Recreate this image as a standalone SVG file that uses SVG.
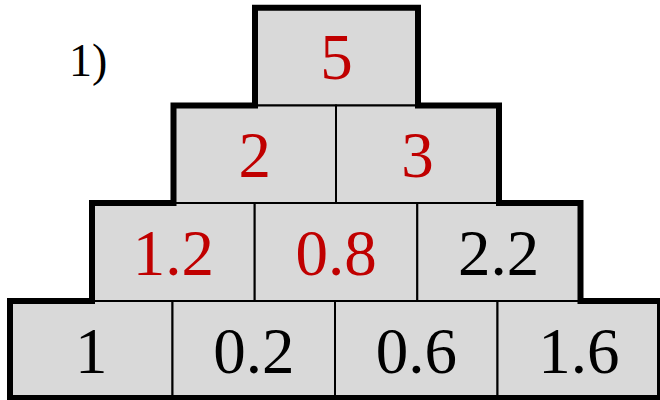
<svg xmlns="http://www.w3.org/2000/svg" width="660" height="400" viewBox="0 0 660 400">
  <style>
    .cell { fill: #d9d9d9; stroke: #000; stroke-width: 2; }
    .outline { fill: none; stroke: #000; stroke-width: 6; stroke-linejoin: miter; }
    .num { font-family: "Liberation Serif", "Times New Roman", serif; font-size: 65px; text-anchor: middle; }
    .red { fill: #c00000; }
    .blk { fill: #000; }
    .lbl { font-family: "Liberation Serif", "Times New Roman", serif; font-size: 46px; fill: #000; }
  </style>
  <text class="lbl" x="69" y="76">1)</text>
  <g id="row1">
    <g id="c5"><rect class="cell" x="255" y="7.7" width="163" height="97.8"/><text class="num red" x="336.5" y="79">5</text></g>
  </g>
  <g id="row2">
    <g id="c2"><rect class="cell" x="173.5" y="105.5" width="162.5" height="97.5"/><text class="num red" x="254.75" y="177">2</text></g>
    <g id="c3"><rect class="cell" x="336" y="105.5" width="163" height="97.5"/><text class="num red" x="417.5" y="177">3</text></g>
  </g>
  <g id="row3">
    <g id="c12"><rect class="cell" x="92" y="203" width="162.7" height="98"/><text class="num red" x="173.3" y="275">1.2</text></g>
    <g id="c08"><rect class="cell" x="254.7" y="203" width="162.6" height="98"/><text class="num red" x="336" y="275">0.8</text></g>
    <g id="c22"><rect class="cell" x="417.3" y="203" width="162.7" height="98"/><text class="num blk" x="498.7" y="275">2.2</text></g>
  </g>
  <g id="row4">
    <g id="c1"><rect class="cell" x="10" y="301" width="162.5" height="97"/><text class="num blk" x="91.25" y="373">1</text></g>
    <g id="c02"><rect class="cell" x="172.5" y="301" width="162.5" height="97"/><text class="num blk" x="253.75" y="373">0.2</text></g>
    <g id="c06"><rect class="cell" x="335" y="301" width="162.5" height="97"/><text class="num blk" x="416.25" y="373">0.6</text></g>
    <g id="c16"><rect class="cell" x="497.5" y="301" width="162.5" height="97"/><text class="num blk" x="578.75" y="373">1.6</text></g>
  </g>
  <g id="connectors">
    <path class="outline" d="M10,398 L10,301 L92,301 L92,203 L173.5,203 L173.5,105.5 L255,105.5 L255,7.7 L418,7.7 L418,105.5 L499,105.5 L499,203 L580.5,203 L580.5,301 L660,301 L660,398 Z"/>
  </g>
</svg>
